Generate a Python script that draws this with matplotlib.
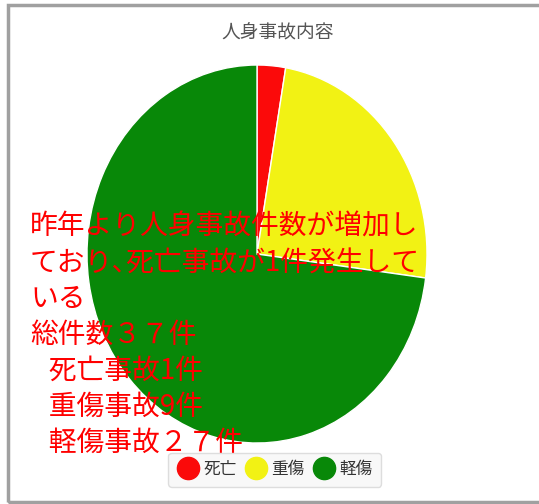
"""人身事故内容 pie chart with annotation overlay."""

import matplotlib
matplotlib.use('Agg')
import matplotlib.pyplot as plt
from matplotlib.lines import Line2D
from matplotlib.patches import Rectangle

plt.rcParams['font.family'] = ['Noto Sans CJK JP', 'DejaVu Sans']

title = "人身事故内容"
labels = ["死亡", "重傷", "軽傷"]
counts = [1, 9, 27]
colors = ["#fb0a0a", "#f2f214", "#088808"]
note_lines = [
    "昨年より人身事故件数が増加し",
    "ており､死亡事故が1件発生して",
    "いる",
    "総件数３７件",
    "   死亡事故1件",
    "   重傷事故9件",
    "   軽傷事故２７件",
]

fig = plt.figure(figsize=(5.39, 5.04), dpi=100)

# outer frame (right edge falls outside the image, as in the source)
fig.patches.append(Rectangle((0.015, 0.004), 1.02, 0.986, transform=fig.transFigure,
                             fill=False, edgecolor='#a0a0a0', lw=2.5, zorder=0))

ax = fig.add_axes([0.1614, 0.121, 0.6308, 0.75])
ax.pie(counts, colors=colors, startangle=90, counterclock=False,
       wedgeprops=dict(edgecolor='white', linewidth=1))
ax.set_aspect('auto')
ax.set_xlim(-1, 1)
ax.set_ylim(-1, 1)
ax.axis('off')

fig.text(0.516, 0.934, title, ha='center', va='center', fontsize=13.5, color='#555555')

fig.text(0.0557, 0.336, "\n".join(note_lines), ha='left', va='center',
         fontsize=20, color='#ff0000', linespacing=1.26)

handles = [Line2D([], [], marker='o', ls='none', markersize=16,
                  markerfacecolor=c, markeredgecolor=c) for c in colors]
leg = fig.legend(handles, labels, loc='center', bbox_to_anchor=(0.51, 0.068),
                 ncol=3, frameon=True, fancybox=True, fontsize=12,
                 handletextpad=0.3, columnspacing=0.5, borderpad=0.5,
                 handlelength=1.3)
leg.get_frame().set_edgecolor('#dddddd')
leg.get_frame().set_facecolor('#f8f8f8')
leg.get_frame().set_alpha(1)
for t in leg.get_texts():
    t.set_color('#333333')

fig.savefig('out.png', dpi=100)
